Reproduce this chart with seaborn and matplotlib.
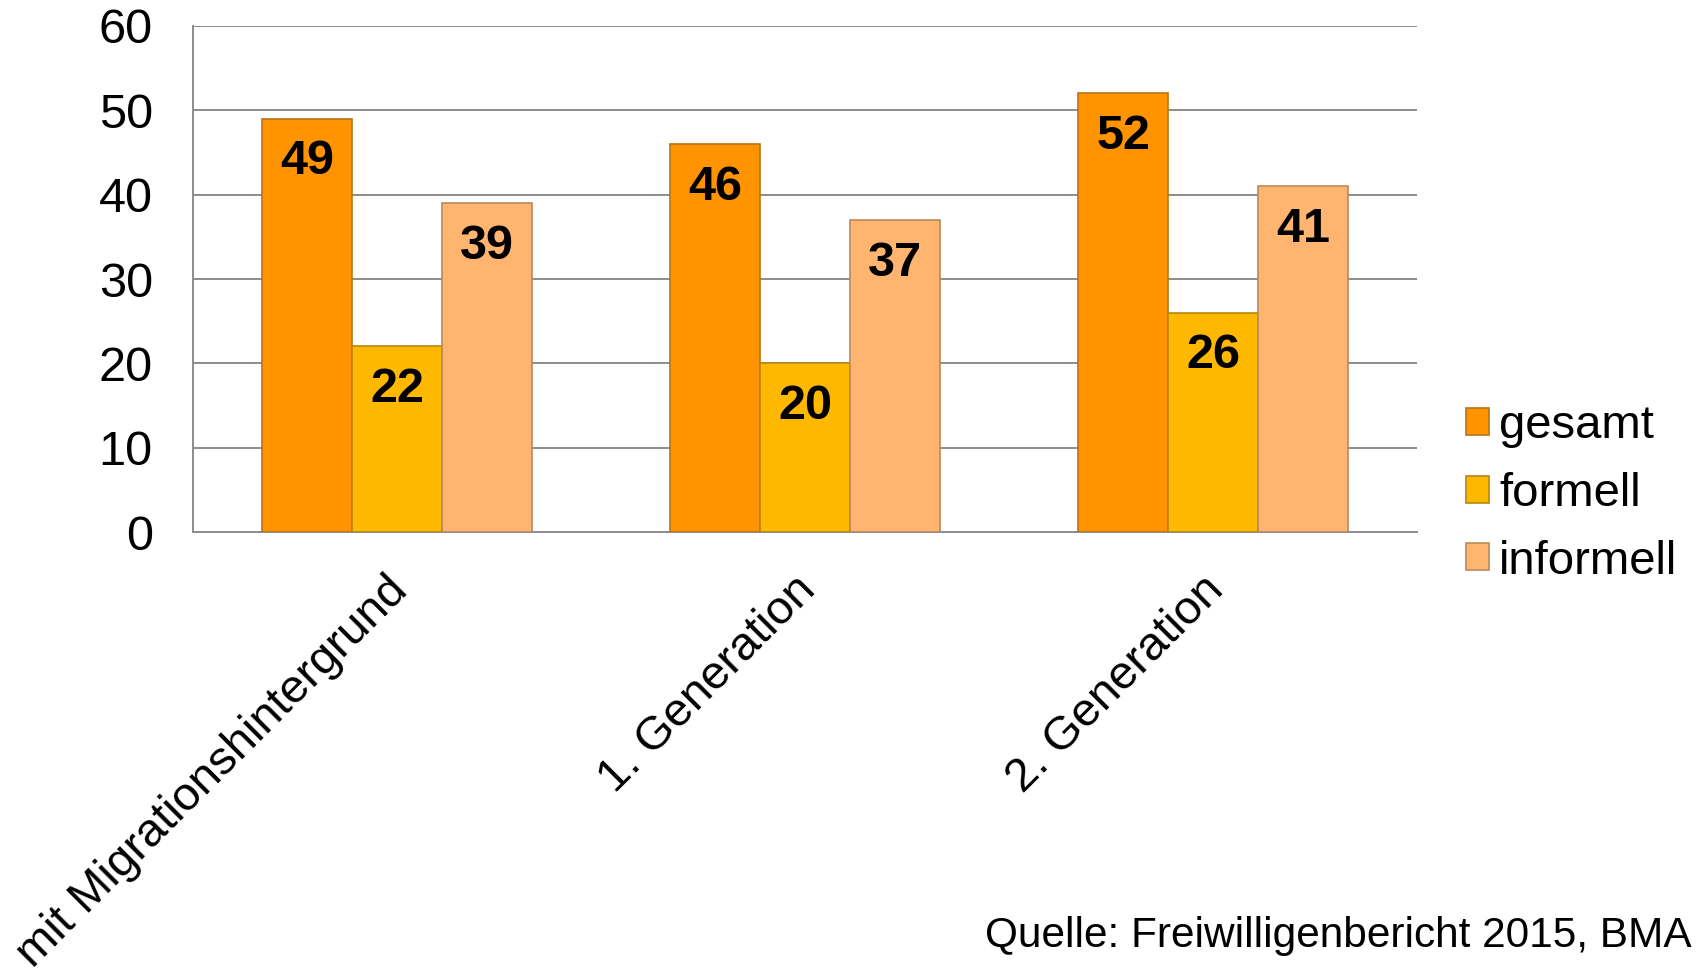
import pandas as pd
import matplotlib.pyplot as plt
import seaborn as sns

# chart data
categories = ["mit Migrationshintergrund", "1. Generation", "2. Generation"]
series = ["gesamt", "formell", "informell"]
gesamt = [49, 46, 52]
formell = [22, 20, 26]
informell = [39, 37, 41]
colors = ["#FF9400", "#FFB800", "#FFB570"]
edge_colors = ["#B8741A", "#B8860A", "#B88A5A"]
source = "Quelle: Freiwilligenbericht 2015, BMA"

sns.set_style("white")
plt.rcParams["font.family"] = ["Liberation Sans", "DejaVu Sans"]
plt.rcParams["text.color"] = "black"
plt.rcParams["ytick.labelcolor"] = "black"

df = pd.DataFrame({
    "Gruppe": categories * 3,
    "Art": [s for s in series for _ in categories],
    "Wert": gesamt + formell + informell,
})

fig = plt.figure(figsize=(16.96, 9.73), dpi=100)
ax = fig.add_axes([0.1138, 0.4532, 0.7217, 0.5201])

sns.barplot(data=df, x="Gruppe", y="Wert", hue="Art", order=categories,
            hue_order=series, palette=colors, width=0.66, gap=0,
            saturation=1, ax=ax, legend=True, zorder=3)

# edge colours per series
for cont, ec in zip(ax.containers, edge_colors):
    for bar in cont:
        bar.set_edgecolor(ec)
        bar.set_linewidth(1.2)

# value labels inside bars near top
for cont in ax.containers:
    for bar in cont:
        h = bar.get_height()
        ax.annotate(f"{h:.0f}", (bar.get_x() + bar.get_width() / 2, h),
                    xytext=(0, -31), textcoords="offset points",
                    ha="center", va="center", fontsize=35,
                    fontweight="bold", color="black", zorder=5)

ax.set_ylim(0, 60)
ax.set_xlim(-0.5, 2.5)
ax.set_yticks(range(0, 61, 10))
ax.yaxis.grid(True, color="#8C8C8C", linewidth=1.4, zorder=0)
ax.set_axisbelow(True)
for side in ["top", "right"]:
    ax.spines[side].set_visible(False)
for side in ["left", "bottom"]:
    ax.spines[side].set_color("#8C8C8C")
    ax.spines[side].set_linewidth(1.4)

# category boundaries as x tick marks
ax.set_xticks([-0.5, 0.5, 1.5, 2.5])
ax.set_xticklabels([])
ax.tick_params(axis="x", length=10, width=1.4, color="#8C8C8C", direction="out")
ax.tick_params(axis="y", length=10, width=1.4, color="#8C8C8C", direction="out",
               labelsize=35, pad=19)
ax.set_xlabel("")
ax.set_ylabel("")

for i, cat in enumerate(categories):
    ax.annotate(cat, (i, 0), xytext=(3, -37), textcoords="offset points",
                rotation=45, ha="right", va="center", rotation_mode="anchor",
                fontsize=34, annotation_clip=False)

handles, labels = ax.get_legend_handles_labels()
for hd, ec in zip(handles, edge_colors):
    hd.set_edgecolor(ec)
    hd.set_linewidth(1.2)
ax.legend(handles, labels, loc="center left", bbox_to_anchor=(1.0245, 0.075),
          frameon=False, fontsize=34, handlelength=0.5, handleheight=0.5,
          handletextpad=0.2, labelspacing=0.5, borderaxespad=0)

fig.text(0.9975, 0.038, source, ha="right", va="center", fontsize=30.5)

fig.savefig("out.png", dpi=100)
